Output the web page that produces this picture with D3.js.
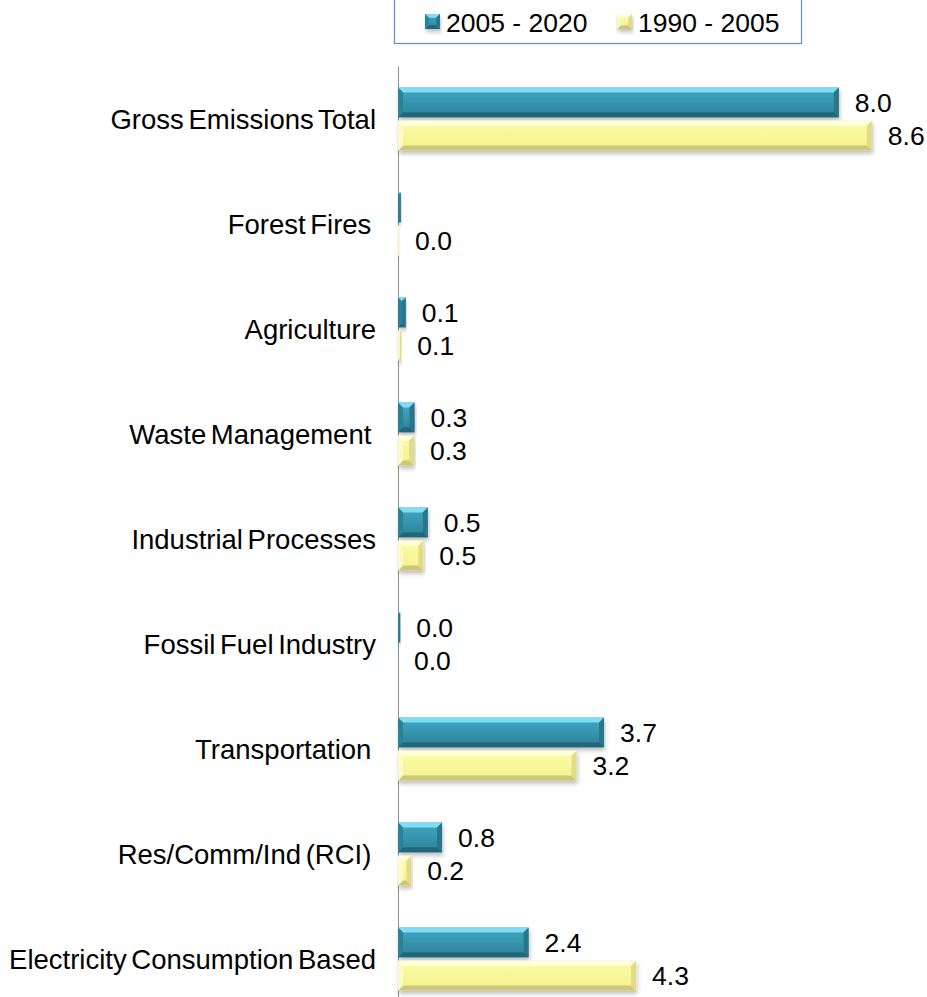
<!DOCTYPE html>
<meta charset="utf-8">
<style>
    body { margin: 0; background: #fff; }
    text { font-family: "Liberation Sans", Arial, sans-serif; fill: #000; }
</style>

<svg width="927" height="997"></svg>

<script src="https://cdn.jsdelivr.net/npm/d3@7/dist/d3.min.js"></script>
<script>

    // DATA

    var categories = ["Gross Emissions Total", "Forest Fires ", "Agriculture", "Waste Management ",
        "Industrial Processes", "Fossil Fuel Industry", "Transportation ", "Res/Comm/Ind (RCI) ",
        "Electricity Consumption Based"];
    var seriesNames = ["2005 - 2020", "1990 - 2005"];
    var values2005_2020 = [8.0, 0.05, 0.14, 0.30, 0.54, 0.04, 3.74, 0.80, 2.37];
    var values1990_2005 = [8.6, 0.02, 0.06, 0.29, 0.46, 0.0, 3.24, 0.24, 4.32];
    // the original shows no value label on this one bar
    var noLabel2005_2020 = ["Forest Fires "];

    // SETUP

    var svg = d3.select("svg"),
        fmt = d3.format(".1f");

    var x = d3.scaleLinear().domain([0, 10]).range([398, 949]);
    var y0 = d3.scaleBand().domain(categories).range([66.5, 1011.5]).paddingInner(0.4).paddingOuter(0.2);
    var y1 = d3.scaleBand().domain(seriesNames).range([0, y0.bandwidth()]).paddingInner(0.1);

    var palettes = {
        "2005 - 2020": { top: "#40a9c4", bottom: "#2d8098", hi: "#7fdcf2", lo: "#22667a", right: "#2a7589", left: "#2c8299" },
        "1990 - 2005": { top: "#fcfca8", bottom: "#f4f18c", hi: "#ffffdc", lo: "#cdc67d", right: "#e2db88", left: "#fbfbc8" }
    };

    var defs = svg.append("defs");
    var shadow = defs.append("filter").attr("id", "shadow")
        .attr("x", "-5%").attr("y", "-20%").attr("width", "115%").attr("height", "160%");
    shadow.append("feDropShadow").attr("dx", 1).attr("dy", 3).attr("stdDeviation", 2)
        .attr("flood-color", "#000").attr("flood-opacity", 0.25);

    seriesNames.forEach(function (s, i) {
        var p = palettes[s];
        var lg = defs.append("linearGradient").attr("id", "grad" + i)
            .attr("x1", 0).attr("y1", 0).attr("x2", 0).attr("y2", 1);
        lg.append("stop").attr("offset", "0%").attr("stop-color", p.top);
        lg.append("stop").attr("offset", "100%").attr("stop-color", p.bottom);
    });

    function poly(pts) {
        return pts.map(function (p) { return p.join(","); }).join(" ");
    }

    function bevelBar(g, x0, x1, yy, h, s, i) {
        var p = palettes[s],
            w = x1 - x0;
        if (w <= 0) return;
        var b = Math.min(5, w / 2, h / 4);
        var bar = g.append("g").attr("filter", "url(#shadow)");
        bar.append("rect").attr("x", x0).attr("y", yy).attr("width", w).attr("height", h)
            .attr("fill", "url(#grad" + i + ")");
        bar.append("polygon").attr("fill", p.hi)
            .attr("points", poly([[x0, yy], [x1, yy], [x1 - b, yy + b], [x0 + b, yy + b]]));
        bar.append("polygon").attr("fill", p.lo)
            .attr("points", poly([[x0, yy + h], [x1, yy + h], [x1 - b, yy + h - b], [x0 + b, yy + h - b]]));
        bar.append("polygon").attr("fill", p.right)
            .attr("points", poly([[x1, yy], [x1, yy + h], [x1 - b, yy + h - b], [x1 - b, yy + b]]));
        bar.append("polygon").attr("fill", p.left)
            .attr("points", poly([[x0, yy], [x0, yy + h], [x0 + b, yy + h - b], [x0 + b, yy + b]]));
    }

    // LEGEND

    var legend = svg.append("g");
    legend.append("rect")
        .attr("x", 394.5).attr("y", -10).attr("width", 407).attr("height", 53.5)
        .attr("fill", "#fff").attr("stroke", "#5b8fd6").attr("stroke-width", 1.2);

    var legendX = [425, 617];
    seriesNames.forEach(function (s, i) {
        var lg = legend.append("g").attr("transform", "translate(" + legendX[i] + ",0)");
        bevelBar(lg, 0, 15, 14, 15, s, i);
        lg.append("text").attr("x", 21).attr("y", 32)
            .style("font-size", "26.5px").text(s);
    });

    // AXIS LINE

    svg.append("line")
        .attr("x1", x(0) + 0.5).attr("x2", x(0) + 0.5)
        .attr("y1", y0.range()[0]).attr("y2", 997)
        .attr("stroke", "#8c8c8c").attr("stroke-width", 1);

    // CATEGORY LABELS

    svg.append("g").selectAll("text")
        .data(categories)
        .enter().append("text")
        .attr("x", 376)
        .attr("y", function (d) { return y0(d) + y0.bandwidth() / 2; })
        .attr("dy", "0.35em")
        .attr("text-anchor", "end")
        .style("white-space", "pre")
        .style("font-size", "27.5px")
        .style("word-spacing", "-3px")
        .text(function (d) { return d; });

    // BARS

    var seriesValues = [values2005_2020, values1990_2005];
    var barsG = svg.append("g");
    var labelsG = svg.append("g");

    categories.forEach(function (c, ci) {
        seriesNames.forEach(function (s, si) {
            var v = seriesValues[si][ci],
                yy = y0(c) + y1(s),
                h = y1.bandwidth();
            bevelBar(barsG, x(0), x(v), yy, h, s, si);
            if (si === 0 && noLabel2005_2020.indexOf(c) >= 0) return;
            labelsG.append("text")
                .attr("x", x(v) + 16)
                .attr("y", yy + h / 2)
                .attr("dy", "0.35em")
                .style("font-size", "26.5px")
                .text(fmt(v));
        });
    });

</script>
